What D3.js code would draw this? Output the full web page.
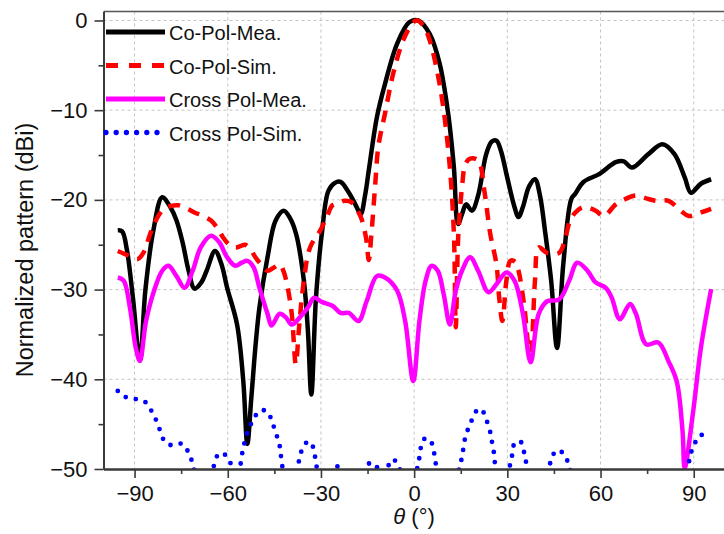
<!DOCTYPE html>
<html>
<head>
<meta charset="utf-8">
<script src="https://cdn.jsdelivr.net/npm/d3@7"></script>
<style>
  html, body { margin: 0; padding: 0; background: #fff; }
  svg { display: block; font-family: "Liberation Sans", Arial, sans-serif; }
</style>
</head>
<body>
<svg id="chart" width="724" height="534"></svg>
<script>
// Radiation pattern: angle (deg) vs normalized level (dB)
const xTicksMajor = [-90, -60, -30, 0, 30, 60, 90];
const xTicksMinor = [-75, -45, -15, 15, 45, 75];
const yTicksMajor = [0, -10, -20, -30, -40, -50];
const yTicksMinor = [-5, -15, -25, -35, -45];

const seriesNames = ["Co-Pol-Mea.", "Co-Pol-Sim.", "Cross Pol-Mea.", "Cross Pol-Sim."];

const coPolMea = [
  [-95.4,-23.4],[-94,-23.5],[-92.5,-25.5],[-90.5,-31],[-88.3,-37.9],[-86.5,-30],[-84,-23.5],
  [-81.1,-19.7],[-78.5,-20.8],[-76.5,-22.3],[-74.5,-24.8],[-72.6,-27.9],[-70.7,-29.9],[-68.5,-29.2],
  [-66.8,-27.9],[-64.1,-25.7],[-62,-27.2],[-60.2,-29.8],[-57,-33.9],[-55,-40.2],[-53.7,-47.2],
  [-52.4,-42],[-51,-36],[-49.8,-32],[-47.2,-26.4],[-44.6,-22.3],[-42,-21.2],[-40,-22],[-38,-23.8],
  [-35.5,-29],[-34.2,-34.6],[-33.1,-41.7],[-31.6,-30.9],[-29.6,-23.4],[-27.6,-19],[-25.5,-18.1],
  [-23.7,-18.0],[-21,-19.2],[-18.5,-20.8],[-17.2,-21.6],[-15.8,-19.5],[-14.6,-16.7],[-12,-10.8],
  [-9.4,-7.1],[-5.5,-2.6],[-1.6,-0.2],[1.3,0],[5,-1.5],[8.2,-4.8],[10.8,-10],[12.8,-16.4],
  [14.1,-22.7],[15.4,-21.6],[16.7,-20.5],[18.6,-21.2],[20.6,-19.5],[23.2,-14.9],[25,-13.5],
  [26.5,-13.4],[28,-14.6],[29.7,-17.1],[32.3,-20.8],[33.6,-21.9],[35,-20.8],[37,-18.5],[38.9,-17.7],
  [40.5,-19.5],[42.1,-23.4],[44.1,-29],[46,-36.5],[48,-27.2],[50.6,-19.9],[51.9,-19.3],[54.5,-18.0],
  [59.7,-17.1],[64.9,-15.8],[67.5,-15.7],[70.1,-16.4],[75.4,-14.9],[79.9,-13.8],[83.8,-14.9],
  [87.1,-17.5],[89.1,-19.2],[92.3,-18.2],[95.6,-17.7]
];

const coPolSim = [
  [-95.4,-25.7],[-92,-26.2],[-89,-26.6],[-87,-25.8],[-85,-23.8],[-83,-22.2],[-81.1,-21.2],
  [-78.5,-20.7],[-75.9,-20.6],[-73,-21],[-70.7,-21.4],[-68,-21.8],[-65.4,-22.3],[-63,-23.3],
  [-61.5,-24.2],[-59.5,-25],[-57.6,-25.3],[-55.5,-25.1],[-54.4,-25],[-52.5,-25.6],[-51.1,-26.4],
  [-49,-27.3],[-47.2,-27.9],[-45,-27.5],[-43.3,-27.2],[-42,-28],[-40.7,-29.8],[-39.4,-32.7],
  [-38.1,-38.3],[-37,-34],[-35.5,-29],[-33.5,-25.3],[-30.2,-23.4],[-28,-21.8],[-26.3,-20.6],
  [-24.4,-20.4],[-22.4,-20.1],[-20,-20.3],[-17.2,-21.9],[-15.5,-24.2],[-14.6,-26.7],[-13.8,-24],
  [-12.6,-18.6],[-11.5,-14],[-9.4,-10.4],[-6.8,-6],[-3.5,-2.2],[-0.3,-0.2],[1,0],[3,-0.6],
  [5,-2.2],[7.6,-6],[9.5,-10],[11.5,-16.4],[12.8,-23.8],[13.4,-34.2],[14.2,-24],[15.4,-18.6],
  [16.5,-16],[18,-15.4],[20.6,-15.6],[22.6,-19],[24.5,-23.8],[26.5,-27.2],[27.4,-31],[28.4,-33.5],
  [29.7,-29],[31,-26.8],[32.5,-26.9],[33.6,-27.9],[35.5,-32],[36.9,-36.5],[37.5,-37],[38.9,-29],
  [40.1,-25.3],[42.8,-25.9],[46.7,-25.9],[48.5,-24.5],[50,-22.5],[51.9,-21.4],[54.5,-20.8],
  [58.4,-21.2],[61,-21.8],[64.9,-20.5],[68,-19.9],[71.4,-19.5],[75.4,-19.9],[78,-20.1],[81.9,-20.1],
  [85.8,-21.2],[88.4,-21.8],[92.3,-21.4],[95.6,-21]
];

const crossPolMea = [
  [-95.4,-28.65],[-93.5,-29],[-91.5,-32],[-89.6,-36.5],[-88.3,-37.95],[-86.3,-33.5],[-83.7,-30.1],
  [-81.1,-27.9],[-79.1,-27.35],[-76.5,-28.5],[-73.9,-29.8],[-71.3,-27.9],[-68.7,-25.3],[-65.4,-24],
  [-62.8,-24.7],[-60.2,-26.4],[-57.6,-27.35],[-55.5,-27],[-53.7,-26.8],[-51.7,-27.5],[-49.8,-29.8],
  [-47.2,-32.7],[-45.9,-34],[-43.3,-32.7],[-41.3,-33.1],[-39.4,-33.9],[-36.8,-33.1],[-34.2,-32],
  [-32.2,-30.9],[-29.6,-31.4],[-26.3,-31.8],[-23.7,-32.6],[-21.1,-32.6],[-17.9,-33.5],[-15.3,-31.3],
  [-12,-28.5],[-9.4,-28.65],[-5.5,-30.1],[-2.9,-33.5],[-0.3,-40.2],[1.7,-33.5],[3.7,-29],[5.6,-27.35],
  [7.6,-27.9],[9.5,-30.5],[11.5,-33.9],[13.4,-30.1],[15.4,-27.9],[18,-26.4],[20.6,-27.9],[23.9,-30.3],
  [26.5,-29.4],[29.7,-28.1],[32.3,-29],[35,-32.7],[37.5,-38.1],[40.1,-32.7],[42.8,-31.3],[46.7,-31.1],
  [49.9,-29],[52.5,-27],[55.8,-27.9],[58.4,-29.2],[61.7,-29.8],[63.6,-30.9],[66.2,-33.3],[69.5,-31.6],
  [71.4,-32.7],[74.7,-36.1],[78.6,-35.9],[81.9,-38],[84.5,-40.2],[86.4,-45.8],[87.1,-49.9],
  [89.7,-43.9],[92.3,-36.5],[95.6,-29.95]
];

const crossPolSim = [
  [-95.4,-41.3],[-93.5,-41.9],[-91,-42.1],[-88.5,-42.3],[-86.3,-42.6],[-84.3,-43.7],[-83,-44.6],
  [-81.7,-45.8],[-80.4,-46.9],[-78.8,-47.3],[-77.2,-47.3],[-74.6,-47.2],[-72.6,-48.2],[-71.3,-49.4],
  [-69.5,-52],[-67,-53],[-65,-50.5],[-63.8,-48.8],[-62.5,-48.2],[-60.2,-48.6],[-58.9,-49.5],
  [-57.5,-50.3],[-56.3,-49.9],[-55,-47.6],[-53.1,-45.4],[-51.7,-44.5],[-49.8,-43.5],[-47.2,-43.6],
  [-45.9,-44.6],[-44.6,-45.9],[-43.3,-47.4],[-42.6,-49.3],[-41,-52],[-39,-51.5],[-37.4,-49.7],
  [-36.8,-48.6],[-35.5,-47.4],[-34,-46.9],[-33,-47.2],[-32.2,-48],[-31.6,-49.3],[-30,-51.5],
  [-27.5,-51],[-25.7,-49.9],[-23.7,-49.7],[-22,-50.8],[-18,-51.5],[-15.5,-50.2],[-14.6,-49.4],
  [-12.6,-49.4],[-11,-50.5],[-9.5,-50.4],[-8.7,-49.9],[-6.8,-48.9],[-4.8,-49.9],[-3,-51.2],
  [-0.5,-51],[1,-49.9],[1.7,-48.7],[3,-46.7],[5,-46.7],[6.3,-48],[6.9,-49.3],[8.5,-51.5],[12,-52],
  [14.7,-49.7],[15.4,-48.6],[16,-47.4],[16.7,-46.1],[18,-45.1],[19.3,-43.9],[20.9,-43.3],[22,-43.5],
  [23,-44.3],[24.3,-45.6],[24.9,-46.7],[25.6,-48],[26.2,-49.9],[27.5,-52],[29.5,-51.5],[31,-49.3],
  [31.7,-48.2],[32.3,-47.1],[33.5,-46.9],[34.7,-47.1],[35.5,-48.4],[36.2,-49.5],[38,-52],[41,-52],
  [43.4,-49.9],[44.3,-48.7],[46,-47.9],[47.5,-48.1],[48.6,-48.6],[49.9,-49.6],[52,-52.5],[58,-54],
  [63.6,-50],[66,-52],[75,-55],[85,-54],[88.4,-49.3],[89.1,-48.2],[90.4,-47.1],[91.7,-46.3],
  [93,-46.2],[94.3,-46.4],[95.6,-46.4]
];

const svg = d3.select("#chart");

const plotLeft = 103.5, plotBottom = 469, plotTop = 11.5, plotRight = 724.8;
const x = d3.scaleLinear().domain([-100, 100]).range([plotLeft, plotRight]);
const y = d3.scaleLinear().domain([-50, 1]).range([plotBottom, plotTop]);

const axisColor = "#3a3a3a";
const fontStack = "'Liberation Sans', Arial, sans-serif";

// dashed grid at the major ticks
const grid = svg.append("g").attr("stroke", "#c4c4c4").attr("stroke-width", 1)
  .attr("stroke-dasharray", "3,3");
grid.selectAll("line.vx").data(xTicksMajor).join("line")
  .attr("x1", d => x(d)).attr("x2", d => x(d))
  .attr("y1", plotTop).attr("y2", plotBottom);
grid.selectAll("line.hy").data(yTicksMajor.filter(d => d > -50)).join("line")
  .attr("x1", plotLeft).attr("x2", plotRight)
  .attr("y1", d => y(d)).attr("y2", d => y(d));

// plot area clip
svg.append("defs").append("clipPath").attr("id", "plotClip")
  .append("rect").attr("x", plotLeft).attr("y", plotTop)
  .attr("width", plotRight - plotLeft).attr("height", plotBottom - plotTop);

const line = d3.line()
  .x(d => x(d[0])).y(d => y(d[1]))
  .curve(d3.curveCatmullRom.alpha(0.5));

const styles = [
  { data: coPolMea,    color: "#000000", width: 4.5, dash: null,     cap: "butt" },
  { data: coPolSim,    color: "#ff0000", width: 4.5, dash: "12,9",   cap: "butt" },
  { data: crossPolMea, color: "#ff00ff", width: 4.5, dash: null,     cap: "butt" },
  { data: crossPolSim, color: "#0000ff", width: 4.8, dash: "0,10.2", cap: "round" }
];

const plot = svg.append("g").attr("clip-path", "url(#plotClip)");
styles.forEach(s => {
  plot.append("path")
    .attr("d", line(s.data))
    .attr("fill", "none")
    .attr("stroke", s.color)
    .attr("stroke-width", s.width)
    .attr("stroke-linejoin", "round")
    .attr("stroke-linecap", s.cap)
    .attr("stroke-dasharray", s.dash);
});

// frame top edge
svg.append("line")
  .attr("x1", plotLeft).attr("x2", plotRight).attr("y1", plotTop).attr("y2", plotTop)
  .attr("stroke", "#555").attr("stroke-width", 1.5);

// axes
function styleAxis(g) {
  g.select(".domain").attr("stroke", axisColor).attr("stroke-width", 2);
  g.selectAll(".tick line").attr("stroke", axisColor).attr("stroke-width", 1.6);
  g.selectAll(".tick text").attr("fill", "#111")
    .style("font-family", fontStack).style("font-size", "22px");
}

svg.append("g").attr("transform", `translate(0,${plotBottom})`)
  .call(d3.axisBottom(x).tickValues(xTicksMajor).tickSize(9).tickSizeOuter(0).tickPadding(7))
  .call(styleAxis);
svg.append("g").attr("transform", `translate(0,${plotBottom})`)
  .call(d3.axisBottom(x).tickValues(xTicksMinor).tickSize(5).tickSizeOuter(0).tickFormat(""))
  .call(styleAxis);

svg.append("g").attr("transform", `translate(${plotLeft},0)`)
  .call(d3.axisLeft(y).tickValues(yTicksMajor).tickSize(9).tickSizeOuter(0).tickPadding(7))
  .call(styleAxis);
svg.append("g").attr("transform", `translate(${plotLeft},0)`)
  .call(d3.axisLeft(y).tickValues(yTicksMinor).tickSize(5).tickSizeOuter(0).tickFormat(""))
  .call(styleAxis);

// axis titles
svg.append("text")
  .attr("transform", "translate(33,250) rotate(-90)")
  .attr("text-anchor", "middle")
  .style("font-family", fontStack).style("font-size", "23.5px").attr("fill", "#111")
  .text("Normalized pattern (dBi)");

const xt = svg.append("text")
  .attr("x", 414).attr("y", 524).attr("text-anchor", "middle")
  .style("font-family", fontStack).style("font-size", "22px").attr("fill", "#111");
xt.append("tspan").style("font-style", "italic").text("θ");
xt.append("tspan").text(" (°)");

// legend
const legendRows = [32, 65.5, 99, 132.5];
const legend = svg.append("g");
styles.forEach((s, i) => {
  const ly = legendRows[i];
  legend.append("line")
    .attr("x1", 106).attr("x2", 165).attr("y1", ly).attr("y2", ly)
    .attr("stroke", s.color).attr("stroke-width", s.width + 0.5)
    .attr("stroke-linecap", s.cap)
    .attr("stroke-dasharray", s.dash ? (i === 1 ? "12,11" : s.dash) : null);
  legend.append("text")
    .attr("x", 169).attr("y", ly + 8)
    .style("font-family", fontStack).style("font-size", "20px").attr("fill", "#111")
    .text(seriesNames[i]);
});
</script>
</body>
</html>
